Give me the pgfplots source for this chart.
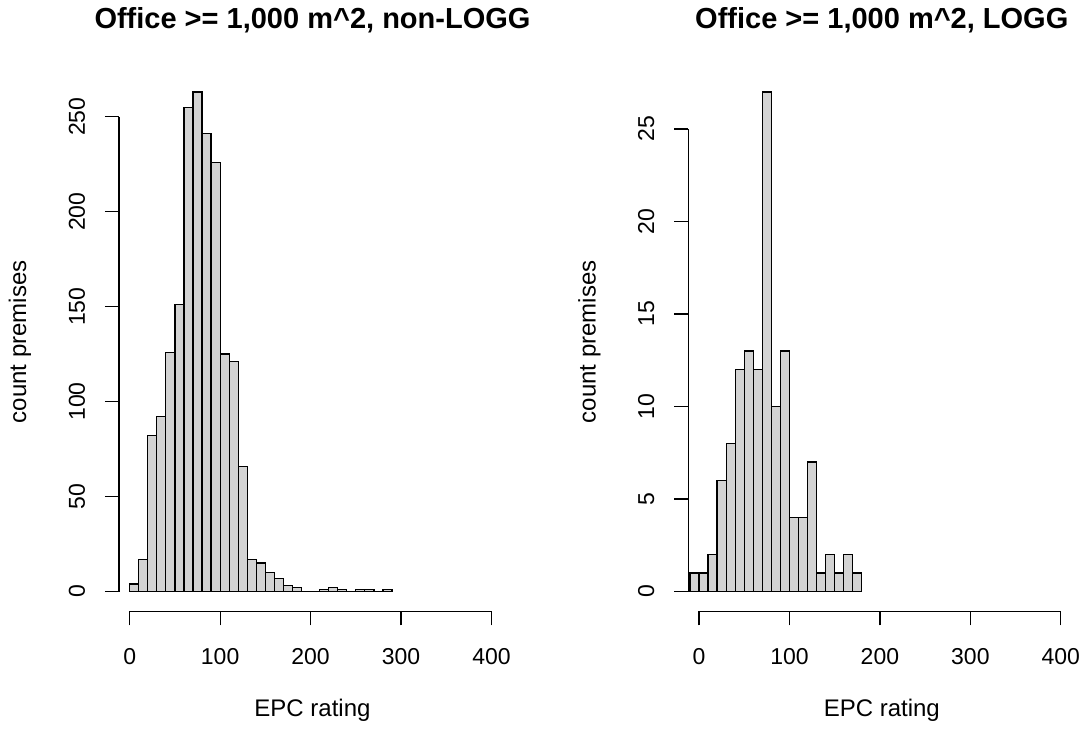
\documentclass[border=0pt]{standalone}
\usepackage{pgfplots}
\pgfplotsset{compat=1.18}
\usepackage{fontspec}
\setmainfont{Liberation Sans}
\definecolor{barfill}{RGB}{211,211,211}
\pgfplotsset{
  rhist/.style={
    scale only axis,
    width=193.5pt, height=269.75pt,
    anchor=south west,
    xmin=-11.8, xmax=416,
    enlargelimits=false,
    axis lines*=left,
    axis line style={draw=none},
    tick align=outside,
    major tick length=7pt,
    tick style={black, line width=0.6pt},
    xtick={0,100,200,300,400},
    /pgf/number format/assume math mode=true,
    /pgf/number format/1000 sep={},
    tick label style={font=\fontsize{11.5}{13}\selectfont},
    xticklabel style={anchor=center, yshift=-15.75pt},
    yticklabel style={xshift=-14pt, rotate=90, anchor=center},
    every axis x label/.style={at={(axis description cs:0.5,0)}, anchor=center, yshift=-49.5pt, font=\fontsize{12}{14}\selectfont},
    every axis y label/.style={at={(axis description cs:0,0.5)}, anchor=center, xshift=-49.5pt, rotate=90, font=\fontsize{12}{14}\selectfont},
    every axis title/.style={at={(axis description cs:0.5,1)}, anchor=center, yshift=26pt, font=\fontsize{14.5}{17}\selectfont\bfseries},
    xlabel={EPC rating},
    ylabel={count premises},
    clip=false,
  },
  histbar/.style={ybar interval, fill=barfill, draw=black, line width=0.6pt},
}
\begin{document}
\begin{tikzpicture}
\useasboundingbox (0,0) rectangle (541pt,366.5pt);
\begin{axis}[rhist, at={(59.5pt,60.75pt)},
  ymin=-10.52, ymax=273.52, ytick={0,50,100,150,200,250},
  title={Office >= 1,000 m\^{}2, non-LOGG}]
\addplot[histbar] coordinates {
(0,4) (10,17) (20,82) (30,92) (40,126) (50,151) (60,255) (70,263) (80,241) (90,226)
(100,125) (110,121) (120,66) (130,17) (140,15) (150,10) (160,7) (170,3) (180,2) (190,0)
(200,0) (210,1) (220,2) (230,1) (240,0) (250,1) (260,1) (270,0) (280,1) (290,1)
};
\draw[line width=0.6pt] (axis cs:0,-10.52) -- (axis cs:400,-10.52);
\draw[line width=0.6pt] (axis cs:-11.8,0) -- (axis cs:-11.8,250);
\end{axis}
\begin{axis}[rhist, at={(344.15pt,60.75pt)},
  ymin=-1.08, ymax=28.08, ytick={0,5,10,15,20,25},
  title={Office >= 1,000 m\^{}2, LOGG}]
\addplot[histbar] coordinates {
(-10,1) (0,1) (10,2) (20,6) (30,8) (40,12) (50,13) (60,12) (70,27) (80,10)
(90,13) (100,4) (110,4) (120,7) (130,1) (140,2) (150,1) (160,2) (170,1) (180,1)
};
\draw[line width=0.6pt] (axis cs:0,-1.08) -- (axis cs:400,-1.08);
\draw[line width=0.6pt] (axis cs:-11.8,0) -- (axis cs:-11.8,25);
\end{axis}
\end{tikzpicture}
\end{document}
